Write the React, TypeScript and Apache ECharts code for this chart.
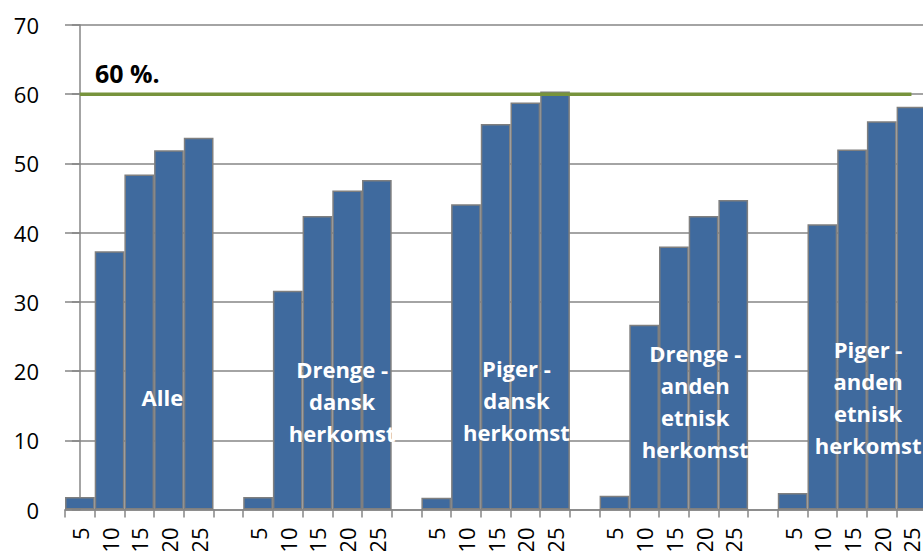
import React, { useEffect, useRef } from "react";
import * as echarts from "echarts";

const ticks = ["5", "10", "15", "20", "25"];
const alle = [1.8, 37.3, 48.4, 51.9, 53.7];
const drengeDansk = [1.8, 31.6, 42.4, 46.1, 47.6];
const pigerDansk = [1.7, 44.1, 55.7, 58.8, 60.4];
const drengeAnden = [2.0, 26.7, 38.0, 42.4, 44.7];
const pigerAnden = [2.4, 41.2, 52.0, 56.1, 58.2];
const groups = [alle, drengeDansk, pigerDansk, drengeAnden, pigerAnden];

const groupLabels = [
  "Alle",
  "Drenge -\ndansk\nherkomst",
  "Piger -\ndansk\nherkomst",
  "Drenge -\nanden\netnisk\nherkomst",
  "Piger -\nanden\netnisk\nherkomst",
];
// label anchor positions in category units (x) and value units (y)
const labelX = [2.78, 8.83, 14.7, 20.72, 26.54];
const labelY = [16.2, 15.7, 15.8, 15.7, 16.3];

const target = 60;
const targetLabel = "60 %.";

const categories: string[] = [];
const values: (number | null)[] = [];
groups.forEach((g, gi) => {
  g.forEach((v, i) => {
    categories.push(ticks[i]);
    values.push(v);
  });
  if (gi < groups.length - 1) {
    categories.push("");
    values.push(null);
  }
});

export default function App() {
  const ref = useRef<HTMLDivElement>(null);
  useEffect(() => {
    if (!ref.current) return;
    const chart = echarts.init(ref.current, null, { renderer: "svg" });
    const n = categories.length;
    const grey = "#868686";
    chart.setOption({
      animation: false,
      textStyle: { fontFamily: "Open Sans" },
      grid: {
        left: 65,
        top: 25,
        bottom: 41.5,
        right: 923 - (65 + n * 29.7),
        containLabel: false,
        outerBoundsMode: "none",
      },
      xAxis: [
        {
          type: "category",
          data: categories,
          boundaryGap: true,
          axisLine: { lineStyle: { color: grey, width: 1.5 } },
          axisTick: { show: true, interval: 0, length: 8, lineStyle: { color: grey, width: 1.5 } },
          axisLabel: {
            interval: 0,
            rotate: 90,
            margin: 18,
            fontSize: 22,
            color: "#000",
            fontFamily: "Open Sans",
          },
        },
        {
          type: "value",
          min: -0.5,
          max: n - 0.5,
          show: false,
        },
      ],
      yAxis: {
        type: "value",
        min: 0,
        max: 70,
        interval: 10,
        axisLine: { show: true, lineStyle: { color: grey, width: 1.5 } },
        axisTick: { show: true, length: 8, lineStyle: { color: grey, width: 1.5 } },
        splitLine: { lineStyle: { color: grey, width: 1.5 } },
        axisLabel: { margin: 26, fontSize: 22, color: "#000", fontFamily: "Open Sans" },
      },
      series: [
        {
          type: "bar",
          data: values,
          barCategoryGap: "0%",
          itemStyle: { color: "#3F6A9E", borderColor: "#7F7F7F", borderWidth: 1.5 },
          z: 2,
        },
        {
          type: "line",
          data: categories.map(() => target),
          symbol: "none",
          lineStyle: { color: "#77933C", width: 3.5 },
          z: 3,
        },
        {
          type: "scatter",
          xAxisIndex: 1,
          symbolSize: 1,
          itemStyle: { color: "rgba(0,0,0,0)", opacity: 1 },
          z: 4,
          data: groupLabels.map((t, i) => ({ value: [labelX[i], labelY[i]], name: t })),
          label: {
            show: true,
            position: "inside",
            formatter: (p: any) => p.name,
            color: "#ffffff",
            opacity: 1,
            fontWeight: "bold",
            fontSize: 22,
            lineHeight: 32,
            align: "center",
            verticalAlign: "middle",
            fontFamily: "Open Sans",
          },
        },
        {
          type: "scatter",
          xAxisIndex: 1,
          symbolSize: 1,
          itemStyle: { color: "rgba(0,0,0,0)", opacity: 1 },
          z: 4,
          data: [{ value: [0.51, 63.1], name: targetLabel }],
          label: {
            show: true,
            position: "inside",
            formatter: (p: any) => p.name,
            color: "#000000",
            opacity: 1,
            fontWeight: "bold",
            fontSize: 25,
            align: "left",
            verticalAlign: "middle",
            fontFamily: "Open Sans",
          },
        },
      ],
    });
    return () => chart.dispose();
  }, []);
  return (
    <div
      ref={ref}
      style={{ position: "fixed", left: 0, top: 0, width: 923, height: 551, background: "#fff" }}
    />
  );
}
